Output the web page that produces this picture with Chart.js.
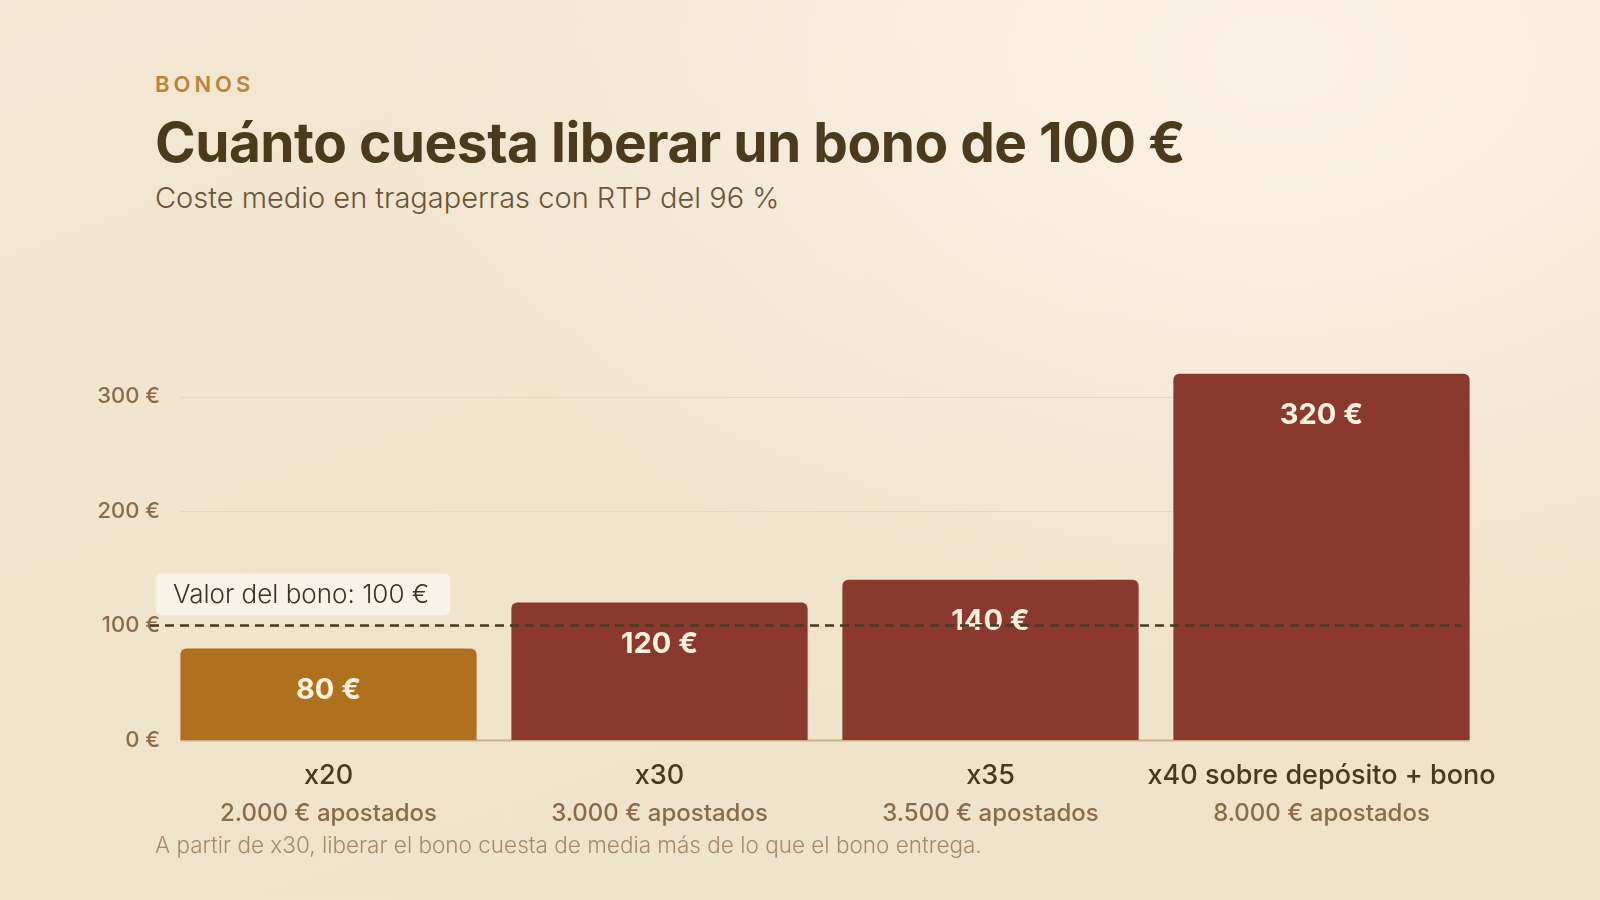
<!DOCTYPE html>
<html lang="es">
<head>
<meta charset="utf-8">
<title>Cuánto cuesta liberar un bono de 100 €</title>
<script src="https://cdn.jsdelivr.net/npm/chart.js@4.4.1/dist/chart.umd.min.js"></script>
<style>
  html, body { margin: 0; padding: 0; }
  body {
    width: 1600px;
    height: 900px;
    overflow: hidden;
    position: relative;
    font-family: "Inter", "Open Sans", sans-serif;
    background:
      radial-gradient(ellipse 900px 600px at 1280px 60px, #fbf3e6 0%, rgba(251,243,230,0) 100%),
      linear-gradient(160deg, #f3e7d3 0%, #f0e3cb 60%, #efe2c9 100%);
  }
  .t { position: absolute; left: 155px; margin: 0; white-space: nowrap; }
  .kicker { top: 71px; font-size: 22px; line-height: 26px; letter-spacing: 4px; font-weight: 600; color: #b8843a; }
  .title { top: 110px; font-size: 55px; line-height: 64px; font-weight: 700; color: #4c3a1c; letter-spacing: -0.5px; }
  .sub { top: 181px; font-size: 29px; line-height: 34px; font-weight: 300; color: #6b5438; }
  .note { top: 832px; font-size: 22.5px; line-height: 26px; font-weight: 300; color: #a38a6a; }
  #chart { position: absolute; left: 0; top: 0; }
</style>
</head>
<body>
<div class="t kicker">BONOS</div>
<h1 class="t title">Cuánto cuesta liberar un bono de 100 €</h1>
<div class="t sub">Coste medio en tragaperras con RTP del 96 %</div>
<canvas id="chart" width="1600" height="900"></canvas>
<div class="t note">A partir de x30, liberar el bono cuesta de media más de lo que el bono entrega.</div>

<script>
const categories = ["x20", "x30", "x35", "x40 sobre depósito + bono"];
const wagered = ["2.000 € apostados", "3.000 € apostados", "3.500 € apostados", "8.000 € apostados"];
const costs = [80, 120, 140, 320];
const barColors = ["#b0711f", "#8b382d", "#8b382d", "#8b382d"];
const yTicks = [0, 100, 200, 300];
const bonusValue = 100;
const bonusLabel = "Valor del bono: 100 €";

const FONT = '"Inter", "Open Sans", sans-serif';

const gridPlugin = {
  id: "gridLines",
  beforeDatasetsDraw(chart) {
    const ctx = chart.ctx;
    const y = chart.scales.y;
    const bars = chart.getDatasetMeta(0).data;
    const left = bars[0].x - bars[0].width / 2;
    const right = bars[bars.length - 1].x + bars[bars.length - 1].width / 2;
    ctx.save();
    yTicks.forEach(v => {
      const py = Math.round(y.getPixelForValue(v)) + 0.5;
      ctx.strokeStyle = v === 0 ? "#c9b08c" : "#e6d7bd";
      ctx.lineWidth = v === 0 ? 2 : 1;
      ctx.beginPath();
      ctx.moveTo(left, py);
      ctx.lineTo(right, py);
      ctx.stroke();
    });
    ctx.restore();
  }
};

const overlayPlugin = {
  id: "overlay",
  afterDatasetsDraw(chart) {
    const ctx = chart.ctx;
    const y = chart.scales.y;
    const bars = chart.getDatasetMeta(0).data;

    // value labels inside bars
    ctx.save();
    ctx.font = "700 29px " + FONT;
    ctx.fillStyle = "#fcf1df";
    ctx.textAlign = "center";
    ctx.textBaseline = "middle";
    bars.forEach((bar, i) => {
      ctx.fillText(costs[i] + " €", bar.x, bar.y + 42);
    });
    ctx.restore();

    // bonus reference line
    const py = y.getPixelForValue(bonusValue);
    const right = bars[bars.length - 1].x + bars[bars.length - 1].width / 2 - 8;
    ctx.save();
    ctx.strokeStyle = "#4a3a24";
    ctx.lineWidth = 2.5;
    ctx.setLineDash([9, 6]);
    ctx.beginPath();
    ctx.moveTo(150, py);
    ctx.lineTo(right, py);
    ctx.stroke();
    ctx.restore();

    // bonus label box
    ctx.save();
    ctx.font = "300 26px " + FONT;
    const tw = ctx.measureText(bonusLabel).width;
    const bx = 156, bh = 42, by = py - 10 - bh;
    ctx.fillStyle = "rgba(250,243,232,0.92)";
    ctx.beginPath();
    ctx.roundRect(bx, by, tw + 38, bh, 6);
    ctx.fill();
    ctx.fillStyle = "#3f3020";
    ctx.textBaseline = "middle";
    ctx.fillText(bonusLabel, bx + 17, by + bh / 2 + 1);
    ctx.restore();

    // second line of category labels
    const x = chart.scales.x;
    ctx.save();
    ctx.font = "500 24px " + FONT;
    ctx.fillStyle = "#8a6c4a";
    ctx.textAlign = "center";
    ctx.textBaseline = "middle";
    wagered.forEach((w, i) => {
      ctx.fillText(w, x.getPixelForValue(i), 814);
    });
    ctx.restore();
  }
};

new Chart(document.getElementById("chart"), {
  type: "bar",
  data: {
    labels: categories,
    datasets: [{
      data: costs,
      backgroundColor: barColors,
      borderRadius: 6,
      borderSkipped: "bottom",
      categoryPercentage: 1,
      barPercentage: 0.895
    }]
  },
  options: {
    responsive: false,
    animation: false,
    devicePixelRatio: 1,
    layout: { padding: { top: 337, right: 113, bottom: 0, left: 0 } },
    plugins: { legend: { display: false }, tooltip: { enabled: false } },
    scales: {
      x: {
        grid: { display: false, drawTicks: false },
        border: { display: false },
        afterFit: s => { s.height = 160; },
        ticks: {
          autoSkip: false,
          maxRotation: 0,
          minRotation: 0,
          padding: 20,
          color: "#4a3820",
          font: { family: FONT, size: 27, weight: 500 }
        }
      },
      y: {
        min: 0,
        max: 352,
        afterFit: s => { s.width = 163; },
        afterBuildTicks: s => { s.ticks = yTicks.map(v => ({ value: v })); },
        grid: { display: false, drawTicks: false },
        border: { display: false },
        ticks: {
          padding: 3,
          color: "#8a6c4a",
          font: { family: FONT, size: 22, weight: 500 },
          callback: v => v + " €"
        }
      }
    }
  },
  plugins: [gridPlugin, overlayPlugin]
});
</script>
</body>
</html>
